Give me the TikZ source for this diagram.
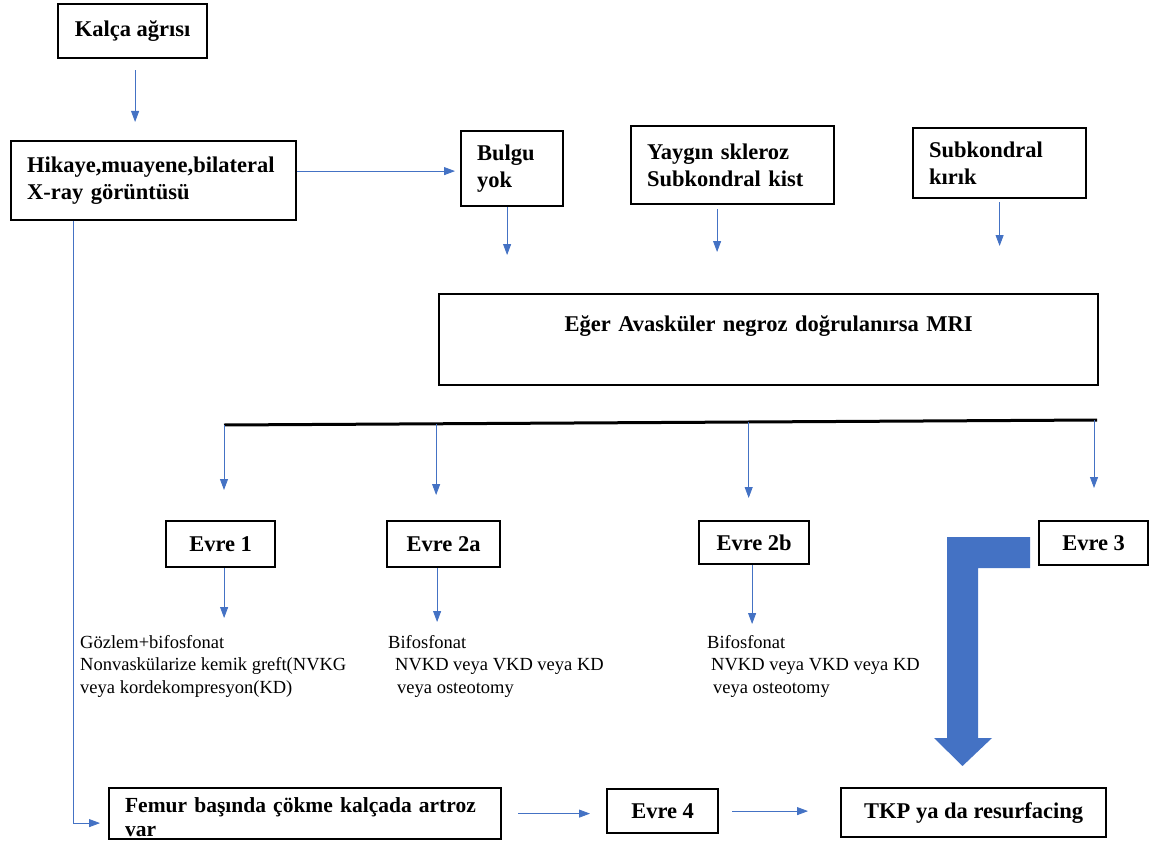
\documentclass[tikz,border=0pt]{standalone}
\usepackage{fontspec}
\setmainfont{Liberation Serif}
\usetikzlibrary{arrows.meta}
\definecolor{ablue}{HTML}{4472C4}
\begin{document}
\begin{tikzpicture}[x=1pt,y=-1pt,
  box/.style={draw=black, line width=2.2pt, rectangle, anchor=north west, inner ysep=0pt, inner xsep=0pt, font=\bfseries\fontsize{22.5}{27}\selectfont},
  lbox/.style={box, align=left, inner xsep=16pt},
  cbox/.style={box, align=center},
  note/.style={anchor=north west, inner sep=0pt, align=left, font=\fontsize{18.5}{22.5}\selectfont},
  conn/.style={draw=ablue, line width=0.85pt, -{Triangle[length=11pt,width=8pt]}}
]
\path[use as bounding box] (0,0) rectangle (1150,856);

% boxes
\node[cbox, minimum width=149pt, minimum height=54pt] (kal) at (57,3) {Kalça ağrısı};
\node[lbox, minimum width=285pt, minimum height=79pt, text width=253pt] (hik) at (10,140) {Hikaye,muayene,bilateral\\X-ray görüntüsü};
\node[lbox, minimum width=102pt, minimum height=75pt, text width=70pt] (bul) at (460,130) {Bulgu\\yok};
\node[lbox, minimum width=203pt, minimum height=78pt, text width=171pt] (yay) at (630,125) {Yaygın skleroz\\Subkondral kist};
\node[lbox, minimum width=173pt, minimum height=70pt, text width=141pt] (sub) at (912,127) {Subkondral\\kırık};
\node[box, align=center, text width=659pt, text height=29pt, text depth=46pt, inner ysep=8pt] (mri) at (438,293) {Eğer Avasküler negroz doğrulanırsa MRI};

\node[cbox, minimum width=109pt, minimum height=46pt] (e1) at (165,520) {Evre 1};
\node[cbox, minimum width=113pt, minimum height=46pt] (e2a) at (386,520) {Evre 2a};
\node[cbox, minimum width=110pt, minimum height=43pt] (e2b) at (698,520) {Evre 2b};
\node[cbox, minimum width=109pt, minimum height=44pt] (e3) at (1038,520) {Evre 3};

\node[note] (t1) at (80,635) {Gözlem+bifosfonat\\Nonvaskülarize kemik greft(NVKG\\veya kordekompresyon(KD)};
\node[note] (t2) at (388,635) {Bifosfonat\\\hspace*{7pt}NVKD veya VKD veya KD\\\hspace*{9pt}veya osteotomy};
\node[note] (t3) at (707,635) {Bifosfonat\\\hspace*{4pt}NVKD veya VKD veya KD\\\hspace*{6pt}veya osteotomy};

\node[lbox, minimum width=392pt, text width=360pt, text height=24pt, text depth=27pt, font=\bfseries\fontsize{21.5}{24}\selectfont] (fem) at (108,787) {\mbox{Femur başında çökme kalçada artroz}\\var};
\node[cbox, minimum width=111pt, minimum height=44pt] (e4) at (606,788) {Evre 4};
\node[cbox, minimum width=265pt, minimum height=49pt] (tkp) at (840,787) {TKP ya da resurfacing};

% connectors
\draw[conn, shorten <=11pt, shorten >=18pt] ([xshift=2.5pt]kal.south) -- ([xshift=2.5pt]kal.south |- hik.north);
\draw[conn, shorten >=5pt] ([yshift=9.5pt]hik.east) -- ([yshift=9.5pt]hik.east -| bul.west);
\draw[conn, shorten >=38pt] ([xshift=-5pt]bul.south) -- ([xshift=-5pt]bul.south |- mri.north);
\draw[conn, shorten <=4pt, shorten >=41pt] ([xshift=-15.5pt]yay.south) -- ([xshift=-15.5pt]yay.south |- mri.north);
\draw[conn, shorten <=3pt, shorten >=47pt] (sub.south) -- (sub.south |- mri.north);

% bar
\coordinate (bl) at (224,425);
\coordinate (br) at (1097,420);
\draw[line width=3pt] (bl) -- (br);
\path (bl) -- (br) coordinate[pos=0.243] (b2) coordinate[pos=0.601] (b3);
\draw[conn, shorten >=30pt] (bl) -- (bl |- e1.north);
\draw[conn, shorten >=25pt] (b2) -- (b2 |- e2a.north);
\draw[conn, shorten >=22pt] (b3) -- (b3 |- e2b.north);
\draw[conn, shorten >=32pt] ([xshift=-3pt]br) -- ([xshift=-3pt]br |- e3.north);

\draw[conn, shorten >=17pt] ([xshift=3.5pt]e1.south) -- ([xshift=3.5pt]e1.south |- t1.north);
\draw[conn, shorten >=13pt] ([xshift=-6.5pt]e2a.south) -- ([xshift=-6.5pt]e2a.south |- t2.north);
\draw[conn, shorten >=11pt] ([xshift=-2pt]e2b.south) -- ([xshift=-2pt]e2b.south |- t3.north);

% left long connector
\draw[conn, shorten >=8pt] ([xshift=63pt]hik.south west) |- ([yshift=-9.5pt]fem.west);
\draw[conn, shorten <=16pt, shorten >=16pt] (fem.east) -- (fem.east -| e4.west);
\draw[conn, shorten <=13pt, shorten >=32pt] (e4.east) -- (e4.east -| tkp.west);

% big L arrow from Evre 3 to TKP
\fill[ablue] (1030,537) -- (947,537) -- (947,738) -- (934,738) -- (962.5,766) -- (992,738) -- (978,738) -- (978,568) -- (1030,568) -- cycle;
\end{tikzpicture}
\end{document}
